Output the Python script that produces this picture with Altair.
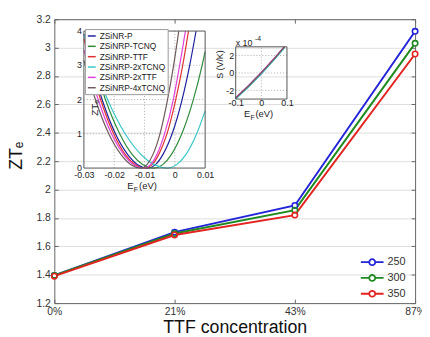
import altair as alt
import pandas as pd

# ---------------- main chart data ----------------
conc = ["0%", "21%", "43%", "87%"]
zt_250 = [1.395, 1.70, 1.888, 3.115]
zt_300 = [1.395, 1.69, 1.855, 3.03]
zt_350 = [1.39, 1.68, 1.82, 2.955]
temps = ["250", "300", "350"]
temp_colors = ["#2323d8", "#1f8a1f", "#e3231f"]
y_ticks = [1.2, 1.4, 1.6, 1.8, 2, 2.2, 2.4, 2.6, 2.8, 3, 3.2]

# ---------------- inset 1 (ZT_e vs E_F) ----------------
materials = ["ZSiNR-P", "ZSiNRP-TCNQ", "ZSiNRP-TTF", "ZSiNRP-2xTCNQ", "ZSiNRP-2xTTF", "ZSiNRP-4xTCNQ"]
mat_colors = ["#1f1f9e", "#2e8b3a", "#e0302e", "#38c8c8", "#e040d8", "#6e5a5a"]

ef_p = [-0.03, -0.0274, -0.0240, -0.0196, -0.0156, -0.0123, -0.0089, -0.0064, -0.0039, -0.0009, 0.0024, 0.0049, 0.0070]
zt_p = [3.91, 3.0, 2.0, 1.0, 0.4, 0.1, 0.0, 0.1, 0.4, 1.0, 2.0, 3.0, 4.0]
ef_tcnq = [-0.0295, -0.0265, -0.0229, -0.0182, -0.0141, -0.0105, -0.0069, -0.0040, -0.0011, 0.0023, 0.0061, 0.0090, 0.0100]
zt_tcnq = [4.0, 3.0, 2.0, 1.0, 0.4, 0.1, 0.0, 0.1, 0.4, 1.0, 2.0, 3.0, 3.4]
ef_ttf = [-0.03, -0.0278, -0.0245, -0.0202, -0.0164, -0.0131, -0.0098, -0.0075, -0.0053, -0.0026, 0.0003, 0.0026, 0.0045]
zt_ttf = [3.77, 3.0, 2.0, 1.0, 0.4, 0.1, 0.0, 0.1, 0.4, 1.0, 2.0, 3.0, 4.0]
ef_2tcnq = [-0.03, -0.0266, -0.0222, -0.0164, -0.0112, -0.0068, -0.0024, 0.0006, 0.0037, 0.0072, 0.0100]
zt_2tcnq = [3.89, 3.0, 2.0, 1.0, 0.4, 0.1, 0.0, 0.1, 0.4, 1.0, 1.67]
ef_2ttf = [-0.03, -0.0287, -0.0253, -0.0209, -0.0169, -0.0136, -0.0102, -0.0080, -0.0059, -0.0034, -0.0005, 0.0016, 0.0035]
zt_2ttf = [3.45, 3.0, 2.0, 1.0, 0.4, 0.1, 0.0, 0.1, 0.4, 1.0, 2.0, 3.0, 4.0]
ef_4tcnq = [-0.03, -0.0262, -0.0218, -0.0178, -0.0145, -0.0111, -0.0092, -0.0072, -0.0049, -0.0024, -0.0004, 0.0013]
zt_4tcnq = [3.14, 2.0, 1.0, 0.4, 0.1, 0.0, 0.1, 0.4, 1.0, 2.0, 3.0, 4.0]
ins1_xdom = [-0.03, 0.01]
ins1_ydom = [0, 4]
ins1_xticks = [-0.03, -0.02, -0.01, 0, 0.01]
ins1_yticks = [0, 1, 2, 3, 4]

# ---------------- inset 2 (S vs E_F) ----------------
s_ef = [-0.1, -0.05, 0.0, 0.05, 0.09]
s_p = [-2.9, -1.50, 0.00, 1.62, 3.0]
s_tcnq = [-2.92, -1.52, -0.02, 1.60, 2.98]
s_ttf = [-2.88, -1.48, 0.02, 1.64, 3.0]
s_2tcnq = [-3.0, -1.62, -0.12, 1.50, 2.86]
s_2ttf = [-2.85, -1.45, 0.05, 1.67, 3.0]
s_4tcnq = [-2.9, -1.50, 0.0, 1.62, 3.0]
ins2_xdom = [-0.1, 0.1]
ins2_ydom = [-3, 3]
ins2_xticks = [-0.1, 0, 0.1]
ins2_yticks = [-2, 0, 2]

FONT = "Liberation Sans"
W, H = 366, 288

# ---------------- build tables ----------------
main_rows = []
for t, vals in zip(temps, [zt_250, zt_300, zt_350]):
    for c, v in zip(conc, vals):
        main_rows.append({"conc": c, "zt": v, "T": t})
main_df = pd.DataFrame(main_rows)

ins1_rows = []
for m, (ef, zt) in zip(materials, [(ef_p, zt_p), (ef_tcnq, zt_tcnq), (ef_ttf, zt_ttf),
                                    (ef_2tcnq, zt_2tcnq), (ef_2ttf, zt_2ttf), (ef_4tcnq, zt_4tcnq)]):
    for e, z in zip(ef, zt):
        ins1_rows.append({"E": e, "ZT": z, "mat": m})
ins1_df = pd.DataFrame(ins1_rows)

ins2_rows = []
for m, s in zip(materials, [s_p, s_tcnq, s_ttf, s_2tcnq, s_2ttf, s_4tcnq]):
    for e, v in zip(s_ef, s):
        ins2_rows.append({"E": e, "S": v, "mat": m})
ins2_df = pd.DataFrame(ins2_rows)

# ---------------- main layer ----------------
xs = alt.Scale(type="point", padding=0)
ys = alt.Scale(domain=[1.2, 3.2], nice=False, zero=False)
cs = alt.Scale(domain=temps, range=temp_colors)

SYM = "M-1.6,0L-0.42,0M0.42,0L1.6,0M-0.42,0A0.42,0.42,0,1,1,0.42,0A0.42,0.42,0,1,1,-0.42,0"
leg_main = alt.Legend(orient="none", legendX=314, legendY=238, title=None,
                      symbolType=SYM, symbolSize=207, symbolStrokeWidth=1.8,
                      symbolFillColor="white", labelFontSize=11, labelOffset=7,
                      rowPadding=0, padding=0, labelColor="#333", labelFont=FONT)

base = alt.Chart(main_df)
lines = base.mark_line(strokeWidth=2).encode(
    x=alt.X("conc:N", sort=conc, scale=xs,
            axis=alt.Axis(orient="bottom", title="TTF concentration", labelAngle=0, ticks=False,
                          domainColor="#666", labelFontSize=10.5, labelColor="#333", labelPadding=4,
                          titleFontSize=18, titleFontWeight="normal", titleColor="#111",
                          titleX=W / 2, titleY=30, titleBaseline="alphabetic")),
    y=alt.Y("zt:Q", scale=ys,
            axis=alt.Axis(orient="left", values=y_ticks, labelExpr="'' + datum.value", ticks=False,
                          domainColor="#666", labelFontSize=10.5, labelColor="#333", labelPadding=4,
                          title="ZTₑ", titleFontSize=18, titleFontWeight="normal", titleColor="#111",
                          titleAngle=270, titleX=-33, titleY=138, titleBaseline="alphabetic",
                          titleAlign="center")),
    color=alt.Color("T:N", scale=cs, legend=leg_main),
)
fills = base.mark_circle(color="white", size=30, opacity=1).encode(
    x=alt.X("conc:N", sort=conc, scale=xs,
            axis=alt.Axis(orient="top", offset=-H, labels=False, title=None, domain=False,
                          tickSize=4, tickColor="#666")),
    y=alt.Y("zt:Q", scale=ys,
            axis=alt.Axis(orient="right", offset=-W, values=y_ticks, labels=False, title=None,
                          domain=False, tickSize=4, tickColor="#666")),
)
rings = base.mark_point(filled=False, size=30, strokeWidth=1.6, opacity=1).encode(
    x=alt.X("conc:N", sort=conc, scale=xs,
            axis=alt.Axis(orient="bottom", offset=-H, labels=False, title=None, domainColor="#666",
                          tickSize=4, tickColor="#666")),
    y=alt.Y("zt:Q", scale=ys,
            axis=alt.Axis(orient="left", offset=-W, values=y_ticks, labels=False, title=None,
                          domainColor="#666", tickSize=4, tickColor="#666")),
    color=alt.Color("T:N", scale=cs, legend=leg_main),
)
main = alt.layer(lines, fills, rings).resolve_axis(x="independent", y="independent")

# ---------------- inset helpers ----------------
mcs = alt.Scale(domain=materials, range=mat_colors)
lab_kw = dict(ticks=False, domain=False, grid=False, labelFontSize=9, labelColor="#222",
              title=None, labelExpr="'' + datum.value", labelOverlap=False, labelFlush=False,
              labelBound=False)
GRID = dict(strokeDash=[1, 2], color="#999", strokeWidth=0.8)


def inset_layers(df, yfield, xsc, ysc, axx, axy, xdom, ydom, xticks, yticks, color_legend, interp,
                 ylab_x=None):
    gx = [t for t in xticks if xdom[0] < t < xdom[1]]
    gy = [t for t in yticks if ydom[0] < t < ydom[1]]
    vgrid = alt.Chart(pd.DataFrame({"gx": gx, "y0": [ydom[0]] * len(gx), "y1": [ydom[1]] * len(gx)})).mark_rule(**GRID).encode(
        x=alt.X("gx:Q", scale=xsc, axis=axx), y=alt.Y("y0:Q", scale=ysc, axis=axy), y2="y1:Q")
    hgrid = alt.Chart(pd.DataFrame({"gy": gy, "x0": [xdom[0]] * len(gy), "x1": [xdom[1]] * len(gy)})).mark_rule(**GRID).encode(
        y=alt.Y("gy:Q", scale=ysc, axis=axy), x=alt.X("x0:Q", scale=xsc, axis=axx), x2="x1:Q")
    curves = alt.Chart(df).mark_line(strokeWidth=1.2, interpolate=interp).encode(
        x=alt.X("E:Q", scale=xsc, axis=axx),
        y=alt.Y(f"{yfield}:Q", scale=ysc, axis=axy),
        color=alt.Color("mat:N", scale=mcs, legend=color_legend),
    )
    frame = alt.Chart(pd.DataFrame({"x0": [xdom[0]], "x1": [xdom[1]],
                                    "y0": [ydom[0]], "y1": [ydom[1]]})).mark_rect(
        filled=False, stroke="#555", strokeWidth=1).encode(
        x=alt.X("x0:Q", scale=xsc, axis=axx), x2="x1:Q",
        y=alt.Y("y0:Q", scale=ysc, axis=axy), y2="y1:Q")
    parts = [vgrid, hgrid, curves, frame]
    if ylab_x is not None:
        ylabs = alt.Chart(pd.DataFrame({"v": yticks, "t": [str(v) for v in yticks]})).mark_text(
            align="right", baseline="middle", fontSize=9, font=FONT, color="#222").encode(
            x=alt.value(ylab_x), y=alt.Y("v:Q", scale=ysc, axis=axy), text="t:N")
        parts.append(ylabs)
    return alt.layer(*parts)


# ---------------- inset 1 ----------------
x1s = alt.Scale(domain=ins1_xdom, range=[30, 153], nice=False, zero=False)
y1s = alt.Scale(domain=ins1_ydom, range=[151, 12], nice=False, zero=False)
ax1x = alt.Axis(orient="bottom", offset=-137, values=ins1_xticks, labelPadding=3, **lab_kw)
ax1y = alt.Axis(orient="left", offset=-30, values=ins1_yticks, labelPadding=2,
                **{**lab_kw, "labels": False})
leg_ins = alt.Legend(orient="none", legendX=31, legendY=10, title=None, symbolType="stroke",
                     symbolSize=64, symbolStrokeWidth=1.5, labelFontSize=8.5, labelFont=FONT,
                     labelColor="#222", labelOffset=3, rowPadding=0.5, padding=2,
                     fillColor="white", strokeColor="#999")
inset1 = inset_layers(ins1_df, "ZT", x1s, y1s, ax1x, ax1y, ins1_xdom, ins1_ydom,
                      ins1_xticks, ins1_yticks, leg_ins, "monotone", ylab_x=28)

# ---------------- inset 2 ----------------
x2s = alt.Scale(domain=ins2_xdom, range=[184, 236], nice=False, zero=False)
y2s = alt.Scale(domain=ins2_ydom, range=[81, 28], nice=False, zero=False)
ax2x = alt.Axis(orient="bottom", offset=-207, values=ins2_xticks, labelPadding=0, **lab_kw)
ax2y = alt.Axis(orient="left", offset=-184, values=ins2_yticks, labelPadding=2, **lab_kw)
inset2 = inset_layers(ins2_df, "S", x2s, y2s, ax2x, ax2y, ins2_xdom, ins2_ydom,
                      ins2_xticks, ins2_yticks, None, "linear")

# ---------------- annotation texts ----------------
one = pd.DataFrame({"a": [0]})


def label(text, x, y, size, angle=0, align="left"):
    return alt.Chart(one).mark_text(text=text, fontSize=size, font=FONT, angle=angle, align=align,
                                    baseline="alphabetic", color="#222").encode(
        x=alt.value(x), y=alt.value(y))


texts = [
    label("ZTₑ", 44, 90, 10, angle=270, align="center"),
    label("E", 74, 172, 9.5),
    label("F", 80.5, 175, 7),
    label("(eV)", 86, 172, 9.5),
    label("S (V/K)", 171, 46, 9, angle=270, align="center"),
    label("E", 192.5, 99, 9.5),
    label("F", 199, 102, 7),
    label("(eV)", 204, 99, 9.5),
    label("x 10", 184, 27, 9),
    label("-4", 203.5, 22, 7),
]

chart = alt.layer(main, inset1, inset2, *texts).resolve_scale(
    x="independent", y="independent", color="independent"
).properties(
    width=W, height=H,
    padding={"left": 47, "top": 9, "right": 7, "bottom": 32},
    autosize=alt.AutoSizeParams(type="none"),
    background="white",
).configure_view(stroke=None).configure_axis(labelFont=FONT, titleFont=FONT)

chart.save("out.html", embed_options={"renderer": "svg", "actions": False})
